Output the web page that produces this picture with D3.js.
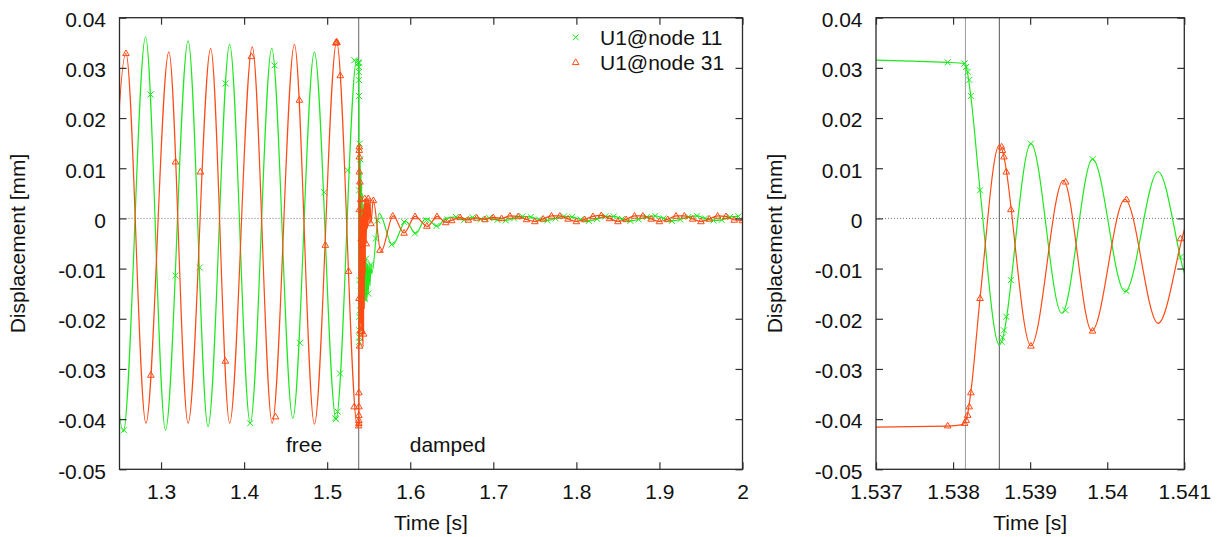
<!DOCTYPE html>
<html>
<head>
<meta charset="utf-8">
<script src="https://cdn.jsdelivr.net/npm/d3@7"></script>
<style>
	body { margin: 0; background: #fff; }
	svg { font-family: "Liberation Sans", Arial, sans-serif; }
</style>
</head>
<body>
<script>
// displacement U1 [mm] against time [s]
// curve = turning points (the line is drawn through them), marks = plotted symbols
const node11Curve = [
	[1.2292, 0.0360], [1.2546, -0.0425], [1.2814, 0.0362], [1.3054, -0.0422],
	[1.3326, 0.0354], [1.3566, -0.0415], [1.3826, 0.0347], [1.4074, -0.0408],
	[1.4333, 0.0339], [1.4586, -0.0398], [1.4846, 0.0332], [1.5107, -0.0400],
	[1.5357, 0.0318], [1.53793, 0.0311], [1.53815, 0.0309], [1.53818, 0.0296],
	[1.53823, 0.0244], [1.53835, 0.0056], [1.53860, -0.0252], [1.53901, 0.0149],
	[1.53941, -0.0189], [1.53981, 0.0118], [1.54023, -0.0146], [1.54066, 0.0093],
	[1.54108, -0.0130], [1.5415, 0.0070], [1.5419, -0.0125], [1.5423, 0.0050],
	[1.5427, -0.0130], [1.5431, 0.0025], [1.5435, -0.0140], [1.5439, 0.0000],
	[1.5443, -0.0150], [1.5447, -0.0030], [1.5452, -0.0160], [1.5457, -0.0060],
	[1.5463, -0.0165], [1.5470, -0.0080], [1.5478, -0.0165], [1.5486, -0.0090],
	[1.5495, -0.0150], [1.5505, -0.0088], [1.5515, -0.0135], [1.5527, -0.0092],
	[1.5537, -0.0110], [1.5626, 0.0010], [1.5786, -0.0053], [1.5947, -0.0006],
	[1.6067, -0.0030], [1.6187, 0.0000], [1.6326, -0.0016], [1.6427, 0.0000]
];
const node11Marks = [
	[1.2554, -0.0422], [1.2874, 0.0247], [1.3174, -0.0114], [1.3466, -0.0098],
	[1.3778, 0.0269], [1.4074, -0.0408], [1.4366, 0.0305], [1.4674, -0.0248],
	[1.4966, 0.0052], [1.5098, -0.0398], [1.5106, -0.0400], [1.5126, -0.0385],
	[1.5154, -0.0309], [1.5246, 0.0096], [1.5326, 0.0315],
	[1.53793, 0.0311], [1.53815, 0.0309], [1.53817, 0.0302], [1.53819, 0.0292],
	[1.53821, 0.0276], [1.53823, 0.0244], [1.53835, 0.0056], [1.53863, -0.0246],
	[1.53864, -0.0237], [1.53866, -0.0223], [1.53869, -0.0196], [1.53875, -0.0123],
	[1.53901, 0.0149], [1.53946, -0.0183], [1.53981, 0.0118], [1.54025, -0.0145],
	[1.54095, -0.0077],
	[1.5419, -0.0125], [1.5435, -0.0140], [1.5452, -0.0160], [1.5470, -0.0080],
	[1.5495, -0.0150], [1.5527, -0.0092],
	[1.5586, -0.0040], [1.5606, -0.0004], [1.5776, -0.0052], [1.5926, -0.0007],
	[1.6056, -0.0030], [1.6196, -0.0004], [1.6316, -0.0015], [1.6446, -0.0002]
];
const node11Tail = [
	[1.655, 0.0003], [1.665, -0.0003], [1.675, 0.0002], [1.685, -0.0002],
	[1.695, 0.0001], [1.705, -0.0003], [1.715, -0.0004], [1.725, 0.0000],
	[1.735, 0.0004], [1.745, 0.0003], [1.755, -0.0002], [1.765, -0.0004],
	[1.775, 0.0000], [1.785, 0.0004], [1.795, 0.0003], [1.805, -0.0002],
	[1.815, -0.0005], [1.825, -0.0001], [1.835, 0.0004], [1.845, 0.0004],
	[1.855, -0.0001], [1.865, -0.0005], [1.875, -0.0002], [1.885, 0.0003],
	[1.895, 0.0005], [1.905, 0.0000], [1.915, -0.0005], [1.925, -0.0002],
	[1.935, 0.0003], [1.945, 0.0005], [1.955, 0.0000], [1.965, -0.0004],
	[1.975, -0.0003], [1.985, 0.0003], [1.995, 0.0004]
];

const node31Curve = [
	[1.2337, -0.0410], [1.2578, 0.0329], [1.2818, -0.0408], [1.3094, 0.0332],
	[1.3326, -0.0408], [1.3598, 0.0339], [1.3826, -0.0408], [1.4098, 0.0342],
	[1.4338, -0.0408], [1.4606, 0.0347], [1.4846, -0.0410], [1.5114, 0.0352],
	[1.5366, -0.0416], [1.53793, -0.0414], [1.53812, -0.0411], [1.53818, -0.0396],
	[1.53823, -0.0347], [1.53835, -0.0159], [1.53860, 0.0146], [1.53901, -0.0254],
	[1.53943, 0.0076], [1.53980, -0.0224], [1.54023, 0.0038], [1.54066, -0.0209],
	[1.5411, 0.0005], [1.5415, -0.0225], [1.5419, 0.0000], [1.5423, -0.0245],
	[1.5427, 0.0010], [1.5431, -0.0256], [1.5435, 0.0020], [1.5439, -0.0230],
	[1.5443, 0.0030], [1.5447, -0.0180], [1.5452, 0.0040], [1.5457, -0.0110],
	[1.5463, 0.0040], [1.5470, -0.0050], [1.5478, 0.0042], [1.5486, -0.0020],
	[1.5495, 0.0040], [1.5505, -0.0010], [1.5515, 0.0040], [1.5527, -0.0010],
	[1.5554, 0.0037], [1.5647, -0.0067], [1.5794, 0.0005], [1.5926, -0.0029],
	[1.6058, 0.0004], [1.6206, -0.0016], [1.6326, 0.0004], [1.6427, -0.0008]
];
const node31Marks = [
	[1.2578, 0.0329], [1.2878, -0.0312], [1.3174, 0.0113], [1.3474, 0.0093],
	[1.3774, -0.0284], [1.4087, 0.0323], [1.4378, -0.0395], [1.4666, 0.0236],
	[1.4978, -0.0053], [1.5106, 0.0350], [1.5110, 0.0351], [1.5114, 0.0352],
	[1.5118, 0.0351], [1.5158, 0.0285], [1.5258, -0.0105], [1.5326, -0.0375],
	[1.53793, -0.0413], [1.53815, -0.0408], [1.53817, -0.0402], [1.53819, -0.0392],
	[1.53821, -0.0375], [1.53823, -0.0347], [1.53835, -0.0159], [1.53863, 0.0143],
	[1.53864, 0.0136], [1.53866, 0.0123], [1.53869, 0.0093], [1.53875, 0.0018],
	[1.53901, -0.0254], [1.53946, 0.0073], [1.53981, -0.0224], [1.54025, 0.0038],
	[1.54095, -0.0040],
	[1.5415, -0.0225], [1.5427, 0.0010], [1.5439, -0.0230], [1.5452, 0.0040],
	[1.5470, -0.0050], [1.5495, 0.0040], [1.5527, -0.0010],
	[1.5557, 0.0036], [1.5636, -0.0063], [1.5790, 0.0005], [1.5926, -0.0029],
	[1.6058, 0.0004], [1.6200, -0.0015], [1.6322, 0.0004], [1.6427, -0.0008]
];
const node31Tail = [
	[1.650, -0.0004], [1.660, 0.0002], [1.670, -0.0003], [1.680, 0.0001],
	[1.690, -0.0002], [1.700, 0.0002], [1.710, 0.0000], [1.720, 0.0005],
	[1.730, 0.0004], [1.740, -0.0002], [1.750, -0.0006], [1.760, -0.0001],
	[1.770, 0.0005], [1.780, 0.0005], [1.790, -0.0001], [1.800, -0.0006],
	[1.810, -0.0002], [1.820, 0.0004], [1.830, 0.0006], [1.840, 0.0000],
	[1.850, -0.0006], [1.860, -0.0002], [1.870, 0.0005], [1.880, 0.0005],
	[1.890, -0.0001], [1.900, -0.0006], [1.910, -0.0002], [1.920, 0.0005],
	[1.930, 0.0005], [1.940, -0.0001], [1.950, -0.0006], [1.960, -0.0001],
	[1.970, 0.0005], [1.980, 0.0004], [1.990, -0.0003], [2.000, -0.0004]
];

const yTickValues = [-0.05, -0.04, -0.03, -0.02, -0.01, 0, 0.01, 0.02, 0.03, 0.04];
const mainTickValues = [1.3, 1.4, 1.5, 1.6, 1.7, 1.8, 1.9, 2.0];
const zoomTickValues = [1.537, 1.538, 1.539, 1.54, 1.541];
const mainSwitchTimes = [1.538];
const zoomSwitchTimes = [1.53816, 1.5386];
const seriesNames = ["U1@node 11", "U1@node 31"];
const phaseNames = ["free", "damped"];

(function() {

	const width = 1223,
		height = 537,
		yTop = 17.7,
		yBottom = 469.3,
		fontSize = 21;

	const svg = d3.select("body").append("svg")
		.attr("width", width)
		.attr("height", height);

	const y = d3.scaleLinear()
		.domain([-0.05, 0.04])
		.range([yBottom, yTop]);

	const series = [
		{name: seriesNames[0], line: node11Curve.concat(node11Tail), marks: node11Marks.concat(node11Tail),
			color: "#1ee81e", symbol: "M-3,-3L3,3M-3,3L3,-3"},
		{name: seriesNames[1], line: node31Curve.concat(node31Tail), marks: node31Marks.concat(node31Tail),
			color: "#ff4a14", symbol: "M0,-3.4L3.3,2.3L-3.3,2.3Z"}
	];

	drawPanel({
		id: "main", left: 119.5, right: 742.5, domain: [1.25, 2],
		ticks: mainTickValues, format: d => String(+d.toFixed(2)),
		switches: mainSwitchTimes, switchColors: ["#666"], legend: true
	});

	drawPanel({
		id: "zoom", left: 876, right: 1184.3, domain: [1.537, 1.541],
		ticks: zoomTickValues, format: d => String(+d.toFixed(4)),
		switches: zoomSwitchTimes, switchColors: ["#9a9a9a", "#555"], legend: false
	});

	function drawPanel(p) {
		const x = d3.scaleLinear()
			.domain(p.domain)
			.range([p.left, p.right]);

		const g = svg.append("g").attr("class", "panel-" + p.id);

		g.append("clipPath")
			.attr("id", "clip-" + p.id)
			.append("rect")
			.attr("x", p.left)
			.attr("y", yTop)
			.attr("width", p.right - p.left)
			.attr("height", yBottom - yTop);

		// zero line
		g.append("line")
			.attr("x1", p.left).attr("x2", p.right)
			.attr("y1", y(0)).attr("y2", y(0))
			.attr("stroke", "#777")
			.attr("stroke-width", 1)
			.attr("stroke-dasharray", "1,2");

		// switch free -> damped
		g.selectAll(".switch")
			.data(p.switches)
			.enter().append("line")
			.attr("class", "switch")
			.attr("x1", d => x(d)).attr("x2", d => x(d))
			.attr("y1", yTop).attr("y2", yBottom)
			.attr("stroke", (d, i) => p.switchColors[i])
			.attr("stroke-width", 1);

		const line = d3.line()
			.x(d => x(d[0]))
			.y(d => y(d[1]))
			.curve(d3.curveMonotoneX);

		const plot = g.append("g").attr("clip-path", "url(#clip-" + p.id + ")");

		series.forEach(s => {
			plot.append("path")
				.datum(s.line)
				.attr("d", line)
				.attr("fill", "none")
				.attr("stroke", s.color)
				.attr("stroke-width", 1.2)
				.attr("stroke-linejoin", "round");

			plot.selectAll(null)
				.data(s.marks.filter(d => d[0] >= p.domain[0] && d[0] <= p.domain[1]))
				.enter().append("path")
				.attr("d", s.symbol)
				.attr("transform", d => `translate(${x(d[0])},${y(d[1])})`)
				.attr("fill", "none")
				.attr("stroke", s.color)
				.attr("stroke-width", 1);
		});

		// axes, gnuplot style: ticks inward on all four sides
		const yFormat = d => d === 0 ? "0" : d.toFixed(2);

		const bottom = g.append("g")
			.attr("transform", "translate(0," + yBottom + ")")
			.call(d3.axisBottom(x).tickValues(p.ticks).tickFormat(p.format)
				.tickSizeInner(-7).tickSizeOuter(0).tickPadding(14.8));

		const leftAxis = g.append("g")
			.attr("transform", "translate(" + p.left + ",0)")
			.call(d3.axisLeft(y).tickValues(yTickValues).tickFormat(yFormat)
				.tickSizeInner(-7).tickSizeOuter(0).tickPadding(13.5));

		const top = g.append("g")
			.attr("transform", "translate(0," + yTop + ")")
			.call(d3.axisTop(x).tickValues(p.ticks).tickFormat("")
				.tickSizeInner(-7).tickSizeOuter(0));

		const rightAxis = g.append("g")
			.attr("transform", "translate(" + p.right + ",0)")
			.call(d3.axisRight(y).tickValues(yTickValues).tickFormat("")
				.tickSizeInner(-7).tickSizeOuter(0));

		[bottom, leftAxis, top, rightAxis].forEach(a => {
			a.attr("font-family", null).attr("font-size", null);
			a.select(".domain").remove();
			a.selectAll("line").attr("stroke", "#333").attr("stroke-width", 1.2);
			a.selectAll("text").attr("fill", "#111").style("font-size", fontSize + "px");
		});
		leftAxis.selectAll("text").attr("dy", "0.42em");

		g.append("rect")
			.attr("x", p.left)
			.attr("y", yTop)
			.attr("width", p.right - p.left)
			.attr("height", yBottom - yTop)
			.attr("fill", "none")
			.attr("stroke", "#2a2a2a")
			.attr("stroke-width", 1.3);

		g.append("text")
			.attr("transform", `translate(${p.left - 94.5},${(yTop + yBottom) / 2}) rotate(-90)`)
			.attr("text-anchor", "middle")
			.style("font-size", fontSize + "px")
			.attr("fill", "#111")
			.text("Displacement [mm]");

		g.append("text")
			.attr("x", (p.left + p.right) / 2)
			.attr("y", 530)
			.attr("text-anchor", "middle")
			.style("font-size", fontSize + "px")
			.attr("fill", "#111")
			.text("Time [s]");

		if (!p.legend) return;

		const xs = x(p.switches[0]);
		g.selectAll(".phase")
			.data(phaseNames)
			.enter().append("text")
			.attr("class", "phase")
			.attr("x", (d, i) => i === 0 ? xs - 36.5 : xs + 51)
			.attr("y", yBottom - 17.3)
			.attr("text-anchor", (d, i) => i === 0 ? "end" : "start")
			.style("font-size", fontSize + "px")
			.attr("fill", "#111")
			.text(d => d);

		const legend = g.selectAll(".legend")
			.data(series)
			.enter().append("g")
			.attr("class", "legend")
			.attr("transform", (d, i) => "translate(0," + (37.3 + i * 25) + ")");

		legend.append("path")
			.attr("d", d => d.symbol)
			.attr("transform", "translate(" + (p.right - 166.8) + ",0)")
			.attr("fill", "none")
			.attr("stroke", d => d.color)
			.attr("stroke-width", 1);

		legend.append("text")
			.attr("x", p.right - 142.5)
			.attr("y", 7.3)
			.style("font-size", fontSize + "px")
			.attr("fill", "#111")
			.text(d => d.name);
	}

})();
</script>
</body>
</html>
